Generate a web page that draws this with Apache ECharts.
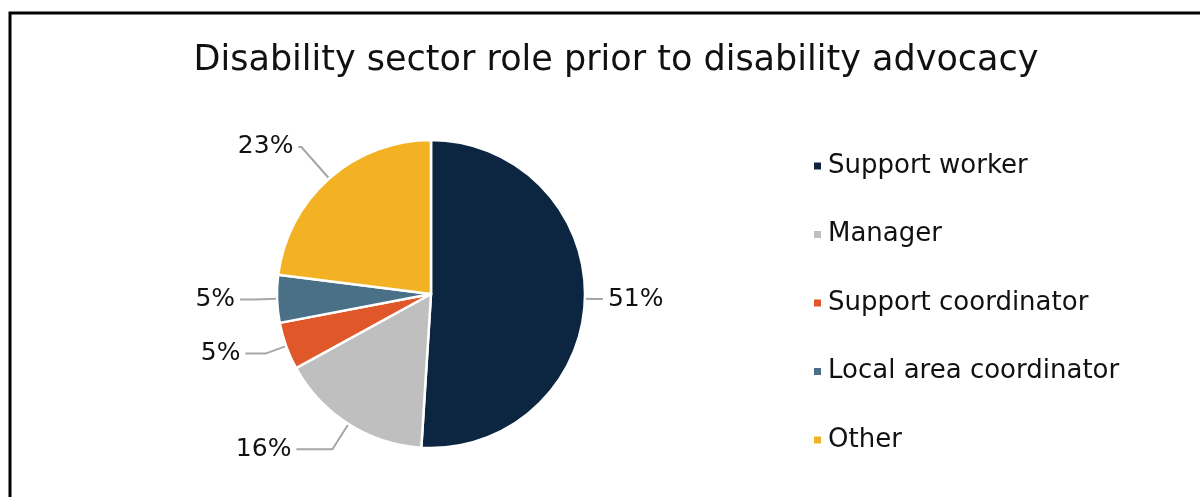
<!DOCTYPE html>
<html>
<head>
<meta charset="utf-8">
<style>
  html, body { margin: 0; padding: 0; background: #ffffff; }
  #chart { width: 1200px; height: 497px; }
</style>
<script src="https://cdn.jsdelivr.net/npm/echarts@6/dist/echarts.min.js"></script>
</head>
<body>
<div id="chart"></div>
<script>
// Roles held in the disability sector before moving into advocacy (% of respondents)
const categories = ['Support worker', 'Manager', 'Support coordinator', 'Local area coordinator', 'Other'];
const shares = [51, 16, 5, 5, 23];
const colors = ['#0c2540', '#bfbfbf', '#e0572a', '#4a7088', '#f2b224'];
const titleText = 'Disability sector role prior to disability advocacy';

// Leader-line lengths per slice: [radial part, horizontal part]
const leaderLengths = [[8, 10], [30, 36], [22, 20], [22, 15], [42, 3]];

const FONT = '"DejaVu Sans", sans-serif';

const chart = echarts.init(document.getElementById('chart'), null, { renderer: 'canvas' });

chart.setOption({
  backgroundColor: '#ffffff',
  animation: false,
  title: {
    text: titleText,
    left: 611,
    textAlign: 'center',
    top: 38,
    textStyle: { fontFamily: FONT, fontSize: 35, fontWeight: 'normal', color: '#111111' }
  },
  legend: {
    orient: 'vertical',
    left: 807,
    top: 148,
    itemWidth: 9,
    itemHeight: 9,
    itemGap: 42.5,
    icon: 'rect',
    textStyle: { fontFamily: FONT, fontSize: 26, lineHeight: 26, color: '#111111', padding: [0, 0, 0, 1] },
    data: categories
  },
  graphic: [{
    type: 'polyline',
    shape: { points: [[10, 497], [10, 13], [1200, 13]] },
    style: { stroke: '#000000', lineWidth: 3, fill: null },
    silent: true
  }],
  series: [{
    type: 'pie',
    center: [431, 294],
    radius: 154,
    startAngle: 90,
    clockwise: true,
    data: categories.map((name, i) => ({
      name,
      value: shares[i],
      itemStyle: { color: colors[i] },
      labelLine: { length: leaderLengths[i][0], length2: leaderLengths[i][1] }
    })),
    itemStyle: { borderColor: '#ffffff', borderWidth: 2.5 },
    label: {
      show: true,
      formatter: p => p.value + '%',
      fontFamily: FONT,
      fontSize: 25,
      color: '#111111'
    },
    labelLine: {
      show: true,
      lineStyle: { color: '#a6a6a6', width: 2 }
    },
    emphasis: { disabled: true }
  }]
});
</script>
</body>
</html>
